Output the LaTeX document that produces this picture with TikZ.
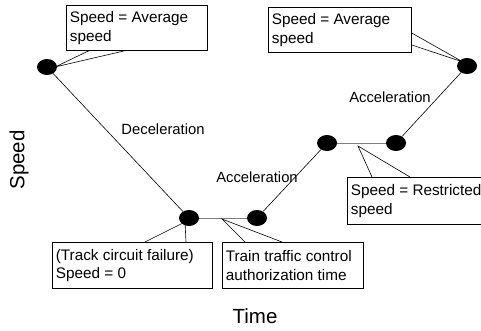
\documentclass[tikz,border=0pt]{standalone}
\usepackage{fontspec}
\setmainfont{Liberation Sans}
\usetikzlibrary{calc,shapes.geometric}
\begin{document}
\begin{tikzpicture}[x=1pt,y=-1pt,
  dot/.style={ellipse,fill=black,minimum width=20pt,minimum height=16pt,inner sep=0pt},
  slope/.style={line width=0.6pt,black},
  flat/.style={line width=1pt,black!50},
  lead/.style={line width=0.6pt,black},
  callbox/.style={draw,fill=white,line width=0.7pt,anchor=north west,align=flush left,
    inner xsep=3.5pt,inner ysep=0pt,minimum height=46pt,
    font=\fontsize{15.3pt}{18.6pt}\selectfont},
  lbl/.style={font=\fontsize{14.8pt}{17pt}\selectfont,inner sep=0pt},
  axis/.style={font=\fontsize{20.5pt}{24pt}\selectfont,inner sep=0pt}]
\useasboundingbox (0,0) rectangle (481,330);

% speed profile points
\node[dot] (d1) at (47,67) {};
\node[dot] (d2) at (189,218) {};
\node[dot] (d3) at (257,218) {};
\node[dot] (d4) at (327,143) {};
\node[dot] (d5) at (396,143) {};
\node[dot] (d6) at (467,66) {};

\draw[slope] (d1) -- (d2);
\draw[flat]  (d2) -- (d3);
\draw[slope] (d3) -- (d4);
\draw[flat]  (d4) -- (d5);
\draw[slope] (d5) -- (d6);

% callout boxes
\node[callbox,text width=134pt,minimum height=45pt] (b1) at (66,5) {Speed = Average\\speed};
\node[callbox,text width=136pt,minimum height=45pt] (b2) at (268,7) {Speed = Average\\speed};
\node[callbox,text width=136pt,minimum height=47pt] (b3) at (347,177) {Speed = Restricted\\speed};
\node[callbox,text width=153pt] (b4) at (52,242) {(Track circuit failure)\\Speed = 0};
\node[callbox,text width=134pt] (b5) at (222,242) {Train traffic control\\authorization time};

% callout tips
\coordinate (t1) at (55,67);
\coordinate (t2) at (463,62);
\coordinate (t3) at (358,146);
\coordinate (t4) at (185,222);
\coordinate (t5) at (222,219);

\draw[lead] ($(b1.south west)+(23,0)$) -- (t1) -- ($(b1.south west)+(59,0)$);
\draw[lead] ($(b2.north east)+(0,26)$) -- (t2) -- ($(b2.north east)+(0,38)$);
\draw[lead] ($(b3.north west)+(25,0)$) -- (t3) -- ($(b3.north west)+(63,0)$);
\draw[lead] ($(b4.north west)+(93,0)$) -- (t4) -- ($(b4.north west)+(134,0)$);
\draw[lead] ($(b5.north west)+(23,0)$) -- (t5) -- ($(b5.north west)+(60,0)$);

% segment labels
\node[lbl] (dec) at (163,129) {Deceleration};
\node[lbl] (acc1) at (257,177) {Acceleration};
\node[lbl] (acc2) at (390,97) {Acceleration};

% axis titles
\node[axis,rotate=90] (ylab) at (19,160) {Speed};
\node[axis] (xlab) at (255,316) {Time};
\end{tikzpicture}
\end{document}
